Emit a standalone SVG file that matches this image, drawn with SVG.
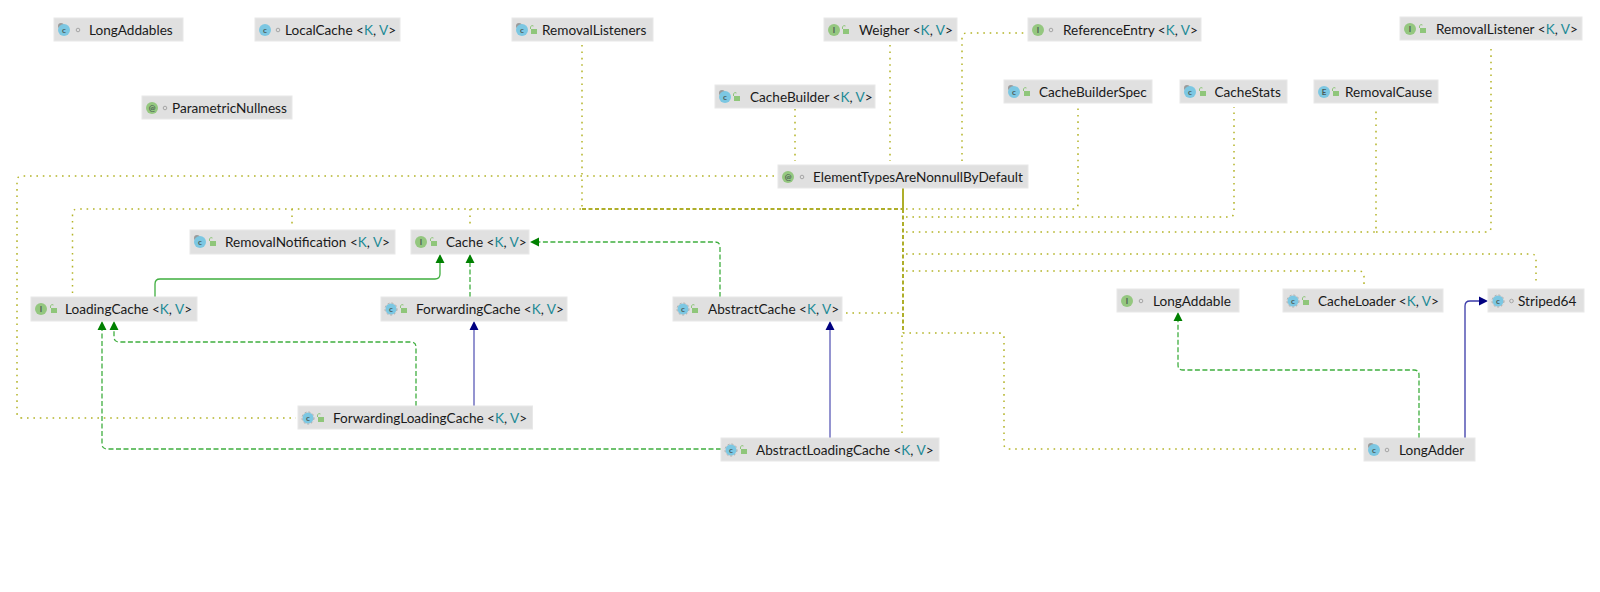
<svg xmlns="http://www.w3.org/2000/svg" xmlns:xlink="http://www.w3.org/1999/xlink" width="1600" height="592" viewBox="0 0 1600 592">
<style>
text{font-family:"Lato","Noto Sans","Liberation Sans",sans-serif}
.box{fill:#e0e0e0;stroke:#e8e8e8;stroke-width:1}
.t{font-size:13.6px;fill:#1a1a1a}
.p{fill:#1d8a96}
.l{font-size:8px;fill:#4a5a55;text-anchor:middle;font-weight:700}
.c{fill:#7cc7e2}
.i{fill:#94c77f}
.e{fill:#7cc7e2}
.pin{fill:#9a9a9a}
.abs{fill:none;stroke:#a8a8a8;stroke-width:1;stroke-dasharray:2 2}
.dot{fill:#e0e0e0;stroke:#a5a5a5;stroke-width:1}
.lock{fill:#8fc67a}
.d{fill:none;stroke:#b4b428;stroke-width:1.5;stroke-dasharray:1.6 4.8}
.trunk{fill:none;stroke:#aeae2a;stroke-width:2}
.g{fill:none;stroke:#3fae3f;stroke-width:1.3}
.gd{stroke-dasharray:5 2.5}
.nv{fill:none;stroke:#9494d0;stroke-width:2}
.nt{fill:none;stroke:#3a3aa8;stroke-width:1.3}
.ag{fill:#008000}
.an{fill:#000080}
</style>
<defs>
<g id="lk"><rect class="lock" x="-2" y="-1" width="6" height="5"/><path d="M-2.5 -1v-2a2 2 0 0 1 3 -1" fill="none" stroke="#8fc67a" stroke-width="1"/></g>
</defs>
<g id="connectors">
<path class="d" d="M774 176H22Q17 176 17 181V413Q17 418 22 418H296"/>
<path class="d" d="M72.500 293V214Q72.500 209 77.500 209H582"/>
<path class="d" d="M292 209V226M470 209V226M582 45V209"/>
<path class="d" d="M795 109V161M890 45V161M962 161V38Q962 33 967 33H1024"/>
<path class="d" d="M906 209H1073Q1078 209 1078 204V107"/>
<path class="d" d="M906 217H1229Q1234 217 1234 212V107"/>
<path class="d" d="M906 232H1376V107"/>
<path class="d" d="M1376 232H1486Q1491 232 1491 227V45"/>
<path class="d" d="M906 254H1531Q1536 254 1536 259V285"/>
<path class="d" d="M906 271H1359Q1364 271 1364 276V285"/>
<path class="d" d="M846 313H903"/>
<path class="d" d="M902 433V333"/>
<path class="d" d="M903 333H999Q1004 333 1004 338V444Q1004 449 1009 449H1360"/>
<path class="trunk" d="M903 188V209"/>
<path class="trunk" stroke-dasharray="4 2.500" d="M903 209V333"/>
<path class="trunk" stroke-width="1.500" stroke-dasharray="4 2.500" d="M582 209H903"/>
<path class="g" d="M155 297V284Q155 279 160 279H435Q440 279 440 274V262"/>
<path class="g gd" d="M470 297V262"/>
<path class="g gd" d="M720 297V247Q720 242 715 242H538"/>
<path class="g gd" d="M416 406V347Q416 342 411 342H119Q114 342 114 337V329"/>
<path class="g gd" d="M721 449H107Q102 449 102 444V329"/>
<path class="g gd" d="M1419 438V375Q1419 370 1414 370H1183Q1178 370 1178 365V320"/>
<path class="nv" d="M474 406V329"/>
<path class="nv" d="M830 438V329"/>
<path class="nt" d="M1465 438V306Q1465 301 1470 301H1479"/>
<path class="ag" d="M440 254l-4.500 9h9zM470 254l-4.500 9h9zM530 242l9 -4.500v9zM114 321l-4.500 9h9zM102 321l-4.500 9h9zM1178 312l-4.500 9h9z"/>
<path class="an" d="M474 321l-4.500 9h9zM830 321l-4.500 9h9zM1488 301l-9 -4.500v9z"/>
</g>
<g id="LongAddables"><rect class="box" x="54" y="18" width="129" height="23"/><circle class="pin" cx="61" cy="26" r="3"/><circle class="c" cx="64" cy="30" r="6"/><text class="l" x="64" y="33">c</text><circle class="dot" cx="78" cy="30" r="1.800"/><text class="t" x="89" y="35">LongAddables</text></g>
<g id="LocalCache"><rect class="box" x="255" y="18" width="145" height="23"/><circle class="c" cx="265" cy="30" r="6"/><text class="l" x="265" y="33">c</text><circle class="dot" cx="278" cy="30" r="1.800"/><text class="t" x="285" y="35">LocalCache &lt;<tspan class="p">K</tspan>, <tspan class="p">V</tspan>&gt;</text></g>
<g id="ParametricNullness"><rect class="box" x="142" y="96" width="150" height="23"/><circle class="i" cx="152" cy="108" r="6"/><text class="l" x="152" y="111">@</text><circle class="dot" cx="165" cy="108" r="1.800"/><text class="t" x="172" y="113">ParametricNullness</text></g>
<g id="RemovalListeners"><rect class="box" x="512" y="18" width="141" height="23"/><circle class="pin" cx="519" cy="26" r="3"/><circle class="c" cx="522" cy="30" r="6"/><text class="l" x="522" y="33">c</text><use xlink:href="#lk" x="533" y="30"/><text class="t" x="542" y="35">RemovalListeners</text></g>
<g id="Weigher"><rect class="box" x="824" y="18" width="133" height="23"/><circle class="i" cx="834" cy="30" r="6"/><text class="l" x="834" y="33">I</text><use xlink:href="#lk" x="845" y="30"/><text class="t" x="859" y="35">Weigher &lt;<tspan class="p">K</tspan>, <tspan class="p">V</tspan>&gt;</text></g>
<g id="ReferenceEntry"><rect class="box" x="1028" y="18" width="173" height="23"/><circle class="i" cx="1038" cy="30" r="6"/><text class="l" x="1038" y="33">I</text><circle class="dot" cx="1051" cy="30" r="1.800"/><text class="t" x="1063" y="35">ReferenceEntry &lt;<tspan class="p">K</tspan>, <tspan class="p">V</tspan>&gt;</text></g>
<g id="RemovalListener"><rect class="box" x="1400" y="17" width="182" height="23"/><circle class="i" cx="1410" cy="29" r="6"/><text class="l" x="1410" y="32">I</text><use xlink:href="#lk" x="1422" y="29"/><text class="t" x="1436" y="34">RemovalListener &lt;<tspan class="p">K</tspan>, <tspan class="p">V</tspan>&gt;</text></g>
<g id="CacheBuilder"><rect class="box" x="715" y="85" width="160" height="23"/><circle class="pin" cx="722" cy="93" r="3"/><circle class="c" cx="725" cy="97" r="6"/><text class="l" x="725" y="100">c</text><use xlink:href="#lk" x="736" y="97"/><text class="t" x="750" y="102">CacheBuilder &lt;<tspan class="p">K</tspan>, <tspan class="p">V</tspan>&gt;</text></g>
<g id="CacheBuilderSpec"><rect class="box" x="1004" y="80" width="148" height="23"/><circle class="pin" cx="1011" cy="88" r="3"/><circle class="c" cx="1014" cy="92" r="6"/><text class="l" x="1014" y="95">c</text><use xlink:href="#lk" x="1026" y="92"/><text class="t" x="1039" y="97">CacheBuilderSpec</text></g>
<g id="CacheStats"><rect class="box" x="1180" y="80" width="107" height="23"/><circle class="pin" cx="1187" cy="88" r="3"/><circle class="c" cx="1190" cy="92" r="6"/><text class="l" x="1190" y="95">c</text><use xlink:href="#lk" x="1202" y="92"/><text class="t" x="1214.500" y="97">CacheStats</text></g>
<g id="RemovalCause"><rect class="box" x="1314" y="80" width="124" height="23"/><circle class="e" cx="1324" cy="92" r="6"/><text class="l" x="1324" y="95">E</text><use xlink:href="#lk" x="1335" y="92"/><text class="t" x="1345" y="97">RemovalCause</text></g>
<g id="ElementTypesAreNonnullByDefault"><rect class="box" x="778" y="165" width="250" height="23"/><circle class="i" cx="788" cy="177" r="6"/><text class="l" x="788" y="180">@</text><circle class="dot" cx="802" cy="177" r="1.800"/><text class="t" x="813" y="182">ElementTypesAreNonnullByDefault</text></g>
<g id="RemovalNotification"><rect class="box" x="190" y="230" width="205" height="24"/><circle class="pin" cx="197" cy="238" r="3"/><circle class="c" cx="200" cy="242" r="6"/><text class="l" x="200" y="245">c</text><use xlink:href="#lk" x="212" y="242"/><text class="t" x="225" y="247">RemovalNotification &lt;<tspan class="p">K</tspan>, <tspan class="p">V</tspan>&gt;</text></g>
<g id="Cache"><rect class="box" x="411" y="230" width="118" height="24"/><circle class="i" cx="421" cy="242" r="6"/><text class="l" x="421" y="245">I</text><use xlink:href="#lk" x="433" y="242"/><text class="t" x="446" y="247">Cache &lt;<tspan class="p">K</tspan>, <tspan class="p">V</tspan>&gt;</text></g>
<g id="LoadingCache"><rect class="box" x="31" y="297" width="166" height="24"/><circle class="i" cx="41" cy="309" r="6"/><text class="l" x="41" y="312">I</text><use xlink:href="#lk" x="53" y="309"/><text class="t" x="65" y="314">LoadingCache &lt;<tspan class="p">K</tspan>, <tspan class="p">V</tspan>&gt;</text></g>
<g id="ForwardingCache"><rect class="box" x="381" y="297" width="186" height="24"/><circle class="c" cx="391" cy="309" r="5.500"/><circle class="abs" cx="391" cy="309" r="6"/><text class="l" x="391" y="312">c</text><use xlink:href="#lk" x="403" y="309"/><text class="t" x="416" y="314">ForwardingCache &lt;<tspan class="p">K</tspan>, <tspan class="p">V</tspan>&gt;</text></g>
<g id="AbstractCache"><rect class="box" x="673" y="297" width="169" height="24"/><circle class="c" cx="683" cy="309" r="5.500"/><circle class="abs" cx="683" cy="309" r="6"/><text class="l" x="683" y="312">c</text><use xlink:href="#lk" x="694" y="309"/><text class="t" x="708" y="314">AbstractCache &lt;<tspan class="p">K</tspan>, <tspan class="p">V</tspan>&gt;</text></g>
<g id="LongAddable"><rect class="box" x="1117" y="289" width="122" height="23"/><circle class="i" cx="1127" cy="301" r="6"/><text class="l" x="1127" y="304">I</text><circle class="dot" cx="1141" cy="301" r="1.800"/><text class="t" x="1153" y="306">LongAddable</text></g>
<g id="CacheLoader"><rect class="box" x="1283" y="289" width="160" height="23"/><circle class="c" cx="1293" cy="301" r="5.500"/><circle class="abs" cx="1293" cy="301" r="6"/><text class="l" x="1293" y="304">c</text><use xlink:href="#lk" x="1305" y="301"/><text class="t" x="1318" y="306">CacheLoader &lt;<tspan class="p">K</tspan>, <tspan class="p">V</tspan>&gt;</text></g>
<g id="Striped64"><rect class="box" x="1488" y="289" width="96" height="23"/><circle class="c" cx="1498" cy="301" r="5.500"/><circle class="abs" cx="1498" cy="301" r="6"/><text class="l" x="1498" y="304">c</text><circle class="dot" cx="1511.500" cy="301" r="1.800"/><text class="t" x="1518" y="306">Striped64</text></g>
<g id="ForwardingLoadingCache"><rect class="box" x="298" y="406" width="234.500" height="23"/><circle class="c" cx="308" cy="418" r="5.500"/><circle class="abs" cx="308" cy="418" r="6"/><text class="l" x="308" y="421">c</text><use xlink:href="#lk" x="320" y="418"/><text class="t" x="333" y="423">ForwardingLoadingCache &lt;<tspan class="p">K</tspan>, <tspan class="p">V</tspan>&gt;</text></g>
<g id="AbstractLoadingCache"><rect class="box" x="721" y="438" width="218" height="23"/><circle class="c" cx="731" cy="450" r="5.500"/><circle class="abs" cx="731" cy="450" r="6"/><text class="l" x="731" y="453">c</text><use xlink:href="#lk" x="743" y="450"/><text class="t" x="756" y="455">AbstractLoadingCache &lt;<tspan class="p">K</tspan>, <tspan class="p">V</tspan>&gt;</text></g>
<g id="LongAdder"><rect class="box" x="1364" y="438" width="111" height="23"/><circle class="pin" cx="1371" cy="446" r="3"/><circle class="c" cx="1374" cy="450" r="6"/><text class="l" x="1374" y="453">c</text><circle class="dot" cx="1387" cy="450" r="1.800"/><text class="t" x="1399" y="455">LongAdder</text></g>
</svg>
